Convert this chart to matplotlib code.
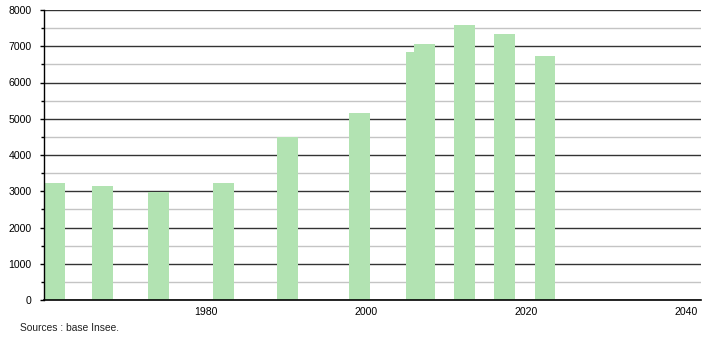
import matplotlib
matplotlib.use("Agg")
import matplotlib.pyplot as plt
from matplotlib.ticker import MultipleLocator

plt.rcParams['font.family'] = ['Liberation Sans', 'DejaVu Sans']

# bar centre positions (years) and populations
years = [1961.1, 1967.1, 1974.1, 1982.2, 1990.2, 1999.2, 2006.3, 2007.3, 2012.3, 2017.3, 2022.4]
population = [3220, 3145, 2980, 3230, 4505, 5150, 6850, 7070, 7580, 7340, 6720]
xticks = [1980, 2000, 2020, 2040]
source = "Sources : base Insee."

fig = plt.figure(figsize=(7.1, 3.4), dpi=100)
ax = fig.add_axes([44/710, 1-300/340, (701-44)/710, 290/340])

ax.set_xlim(1959.75, 2041.9)
ax.set_ylim(0, 8000)

ax.yaxis.set_major_locator(MultipleLocator(1000))
ax.yaxis.set_minor_locator(MultipleLocator(500))
ax.set_xticks(xticks)
ax.set_xticklabels([str(x) for x in xticks])

ax.grid(axis='y', which='minor', color='#c4c4c4', linewidth=1.0, zorder=0)
ax.grid(axis='y', which='major', color='#333333', linewidth=1.0, zorder=0)
ax.set_axisbelow(True)

ax.bar(years, population, width=2.6, color='#b2e3b2', zorder=2, linewidth=0)

for s in ['top', 'right']:
    ax.spines[s].set_visible(False)
ax.spines['left'].set_color('black')
ax.spines['bottom'].set_color('black')
ax.spines['left'].set_linewidth(1.0)
ax.spines['bottom'].set_linewidth(1.2)

ax.tick_params(axis='y', which='major', length=3, width=1, pad=6, labelsize=7.6, colors='black')
ax.tick_params(axis='y', which='minor', length=2, width=1)
ax.tick_params(axis='x', which='major', length=0, pad=5, labelsize=7.6, colors='black')

fig.text(20/710, 1-328/340, source, fontsize=7.4, va='center', ha='left', color='#222222')

fig.savefig("out.png", dpi=100)
